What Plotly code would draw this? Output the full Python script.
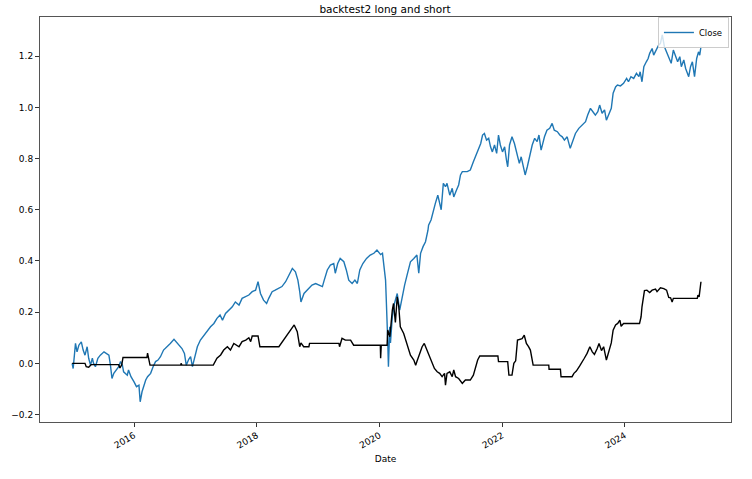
import pandas as pd
import plotly.graph_objects as go

# values (x in decimal years)
close_year = [2014.99, 2015.007, 2015.045, 2015.07, 2015.10, 2015.14, 2015.17, 2015.20, 2015.235, 2015.26,
              2015.29, 2015.32, 2015.34, 2015.37, 2015.41, 2015.45, 2015.51, 2015.55, 2015.59, 2015.615,
              2015.64, 2015.67, 2015.71, 2015.75, 2015.78, 2015.81, 2015.83, 2015.89, 2015.91, 2015.95,
              2016.0, 2016.04, 2016.08, 2016.10, 2016.13, 2016.16, 2016.19, 2016.22, 2016.27, 2016.31,
              2016.35, 2016.39, 2016.43, 2016.48, 2016.54, 2016.59, 2016.65, 2016.70, 2016.745, 2016.78,
              2016.82, 2016.85, 2016.89, 2016.92, 2016.95, 2016.985, 2017.03, 2017.08, 2017.14, 2017.19,
              2017.245, 2017.30, 2017.35, 2017.40, 2017.44, 2017.49, 2017.54, 2017.60, 2017.65, 2017.71,
              2017.76, 2017.82, 2017.87, 2017.925, 2017.98, 2018.02, 2018.06, 2018.11, 2018.16, 2018.195,
              2018.25, 2018.30, 2018.36, 2018.41, 2018.47, 2018.52, 2018.58, 2018.63, 2018.67, 2018.70,
              2018.72, 2018.77, 2018.82, 2018.85, 2018.90, 2018.96, 2019.01, 2019.07, 2019.10, 2019.15,
              2019.20, 2019.255, 2019.28, 2019.32, 2019.36, 2019.42, 2019.46, 2019.50, 2019.555, 2019.60,
              2019.64, 2019.68, 2019.73, 2019.79, 2019.85, 2019.91, 2019.96, 2020.02, 2020.05, 2020.07,
              2020.10, 2020.11, 2020.125, 2020.135, 2020.147, 2020.158, 2020.168, 2020.18, 2020.21, 2020.245,
              2020.29, 2020.33, 2020.37, 2020.41, 2020.45, 2020.505, 2020.56, 2020.61, 2020.64, 2020.67,
              2020.71, 2020.75, 2020.79, 2020.80, 2020.84, 2020.875, 2020.91, 2020.95, 2020.98, 2021.005,
              2021.04, 2021.075, 2021.10, 2021.145, 2021.185, 2021.21, 2021.255, 2021.29, 2021.32, 2021.35,
              2021.43, 2021.48, 2021.53, 2021.565, 2021.60, 2021.65, 2021.68, 2021.71, 2021.745, 2021.78,
              2021.81, 2021.84, 2021.875, 2021.91, 2021.94, 2021.97, 2022.005, 2022.04, 2022.07, 2022.09,
              2022.12, 2022.16, 2022.20, 2022.245, 2022.28, 2022.31, 2022.34, 2022.375, 2022.41, 2022.45,
              2022.49, 2022.53, 2022.57, 2022.60, 2022.635, 2022.69, 2022.73, 2022.775, 2022.815, 2022.85,
              2022.90, 2022.94, 2022.98, 2023.015, 2023.06, 2023.11, 2023.16, 2023.195, 2023.25, 2023.30,
              2023.36, 2023.395, 2023.44, 2023.48, 2023.52, 2023.56, 2023.59, 2023.63, 2023.67, 2023.70,
              2023.74, 2023.78, 2023.81, 2023.85, 2023.88, 2023.93, 2023.98, 2024.03, 2024.06, 2024.10,
              2024.145, 2024.19, 2024.23, 2024.25, 2024.28, 2024.31, 2024.35, 2024.38, 2024.405, 2024.445,
              2024.47, 2024.515, 2024.55, 2024.58, 2024.61, 2024.645, 2024.68, 2024.715, 2024.755, 2024.79,
              2024.825, 2024.86, 2024.895, 2024.92, 2024.96, 2024.99, 2025.04, 2025.07, 2025.10, 2025.135,
              2025.17, 2025.20, 2025.22, 2025.24]
close_value = [0.0, -0.02, 0.078, 0.045, 0.071, 0.084, 0.052, 0.032, 0.065, 0.02,
               -0.007, 0.02, 0.0, -0.013, 0.02, 0.032, 0.045, 0.039, 0.032, -0.007,
               -0.059, -0.039, -0.026, -0.013, 0.007, -0.007, -0.033, -0.046, -0.026, -0.052,
               -0.072, -0.091, -0.085, -0.15, -0.111, -0.085, -0.065, -0.052, -0.039, -0.013,
               0.007, 0.013, 0.026, 0.052, 0.065, 0.078, 0.094, 0.08, 0.065, 0.058,
               0.039, -0.007, 0.016, 0.026, -0.013, 0.026, 0.065, 0.091, 0.11, 0.13,
               0.143, 0.156, 0.176, 0.189, 0.169, 0.195, 0.208, 0.221, 0.24, 0.228,
               0.254, 0.26, 0.267, 0.28, 0.286, 0.319, 0.273, 0.247, 0.234, 0.254,
               0.28, 0.286, 0.293, 0.3, 0.319, 0.345, 0.371, 0.358, 0.325, 0.28,
               0.24, 0.273, 0.286, 0.293, 0.306, 0.312, 0.306, 0.3, 0.325, 0.365,
               0.384, 0.39, 0.352, 0.39, 0.41, 0.397, 0.365, 0.325, 0.312, 0.325,
               0.312, 0.365, 0.39, 0.41, 0.423, 0.43, 0.443, 0.425, 0.43, 0.377,
               0.325, 0.26, 0.182, 0.091, -0.013, 0.104, 0.143, 0.08, 0.182, 0.234,
               0.273, 0.208, 0.26, 0.306, 0.345, 0.397, 0.41, 0.423, 0.352, 0.43,
               0.456, 0.475, 0.52, 0.54, 0.56, 0.599, 0.625, 0.657, 0.63, 0.6,
               0.703, 0.69, 0.703, 0.657, 0.684, 0.65, 0.677, 0.697, 0.736, 0.749,
               0.749, 0.755, 0.788, 0.807, 0.833, 0.859, 0.892, 0.898, 0.872, 0.879,
               0.846, 0.826, 0.853, 0.82, 0.892, 0.853, 0.826, 0.846, 0.794, 0.768,
               0.853, 0.885, 0.859, 0.82, 0.781, 0.807, 0.768, 0.736, 0.768, 0.807,
               0.853, 0.879, 0.866, 0.892, 0.833, 0.885, 0.911, 0.918, 0.9375, 0.911,
               0.905, 0.892, 0.885, 0.872, 0.885, 0.84, 0.872, 0.898, 0.918, 0.931,
               0.944, 0.97, 0.996, 0.983, 0.97, 0.983, 1.009, 0.977, 0.99, 0.95,
               0.977, 0.996, 1.055, 1.08, 1.087, 1.084, 1.094, 1.113, 1.1, 1.12,
               1.113, 1.133, 1.12, 1.139, 1.1, 1.159, 1.178, 1.191, 1.211, 1.23,
               1.204, 1.23, 1.243, 1.25, 1.283, 1.237, 1.217, 1.198, 1.172, 1.224,
               1.198, 1.178, 1.198, 1.159, 1.185, 1.152, 1.12, 1.159, 1.178, 1.12,
               1.191, 1.217, 1.204, 1.237]

strategy_year = [2014.99, 2015.20, 2015.22, 2015.26, 2015.30, 2015.75, 2015.77, 2015.80, 2015.82, 2016.21,
                 2016.22, 2016.24, 2016.26, 2016.76, 2016.765, 2016.78, 2017.29, 2017.35, 2017.41, 2017.46,
                 2017.52, 2017.57, 2017.625, 2017.71, 2017.76, 2017.82, 2017.87, 2017.90, 2017.925, 2018.02,
                 2018.05, 2018.36, 2018.39, 2018.44, 2018.495, 2018.55, 2018.61, 2018.66, 2018.70, 2018.72,
                 2018.765, 2018.85, 2018.86, 2019.34, 2019.35, 2019.39, 2019.445, 2019.53, 2019.58, 2020.015,
                 2020.02, 2020.03, 2020.125, 2020.135, 2020.17, 2020.21, 2020.23, 2020.26, 2020.29, 2020.315,
                 2020.34, 2020.395, 2020.45, 2020.505, 2020.56, 2020.59, 2020.61, 2020.655, 2020.695, 2020.73,
                 2020.775, 2020.82, 2020.86, 2020.895, 2020.94, 2020.98, 2021.02, 2021.06, 2021.075, 2021.10,
                 2021.145, 2021.185, 2021.21, 2021.24, 2021.29, 2021.35, 2021.40, 2021.48, 2021.53, 2021.565,
                 2021.60, 2021.635, 2021.93, 2021.94, 2022.09, 2022.11, 2022.16, 2022.19, 2022.22, 2022.25,
                 2022.325, 2022.36, 2022.395, 2022.43, 2022.46, 2022.505, 2022.76, 2022.765, 2022.95, 2022.96,
                 2023.14, 2023.17, 2023.21, 2023.265, 2023.30, 2023.34, 2023.385, 2023.43, 2023.47, 2023.505,
                 2023.55, 2023.58, 2023.62, 2023.655, 2023.70, 2023.74, 2023.78, 2023.81, 2023.85, 2023.885,
                 2023.92, 2023.94, 2023.98, 2024.24, 2024.265, 2024.28, 2024.32, 2024.36, 2024.405, 2024.445,
                 2024.50, 2024.525, 2024.58, 2024.635, 2024.68, 2024.715, 2024.745, 2024.77, 2024.79, 2025.18,
                 2025.19, 2025.21, 2025.225, 2025.24]
strategy_value = [0.0, 0.0, -0.013, -0.015, -0.005, -0.005, -0.018, -0.005, 0.023, 0.023,
                  0.04, 0.02, -0.007, -0.007, 0.0, -0.007, -0.007, 0.02, 0.033, 0.052,
                  0.065, 0.052, 0.078, 0.065, 0.085, 0.091, 0.1, 0.085, 0.107, 0.107,
                  0.065, 0.065, 0.075, 0.091, 0.11, 0.13, 0.15, 0.124, 0.065, 0.08,
                  0.065, 0.065, 0.078, 0.078, 0.065, 0.098, 0.091, 0.091, 0.071, 0.071,
                  0.02, 0.071, 0.071, 0.13, 0.104, 0.208, 0.234, 0.16, 0.26, 0.221,
                  0.143, 0.117, 0.078, 0.032, 0.013, -0.007, 0.007, 0.039, 0.065, 0.078,
                  0.052, 0.026, 0.0, -0.02, -0.033, -0.039, -0.052, -0.039, -0.085, -0.039,
                  -0.033, -0.052, -0.026, -0.052, -0.059, -0.078, -0.065, -0.065, -0.046, -0.013,
                  0.013, 0.029, 0.029, 0.007, 0.007, -0.046, -0.046, 0.0, 0.01, 0.091,
                  0.097, 0.11, 0.078, 0.065, 0.052, -0.007, -0.007, -0.023, -0.023, -0.052,
                  -0.052, -0.039, -0.03, -0.01, 0.007, 0.02, 0.039, 0.065, 0.045, 0.035,
                  0.058, 0.078, 0.05, 0.065, 0.013, 0.05, 0.08, 0.13, 0.15, 0.156,
                  0.169, 0.145, 0.156, 0.156, 0.182, 0.221, 0.284, 0.286, 0.277, 0.286,
                  0.29, 0.28, 0.295, 0.292, 0.286, 0.258, 0.256, 0.24, 0.254, 0.254,
                  0.267, 0.26, 0.29, 0.319]

y_ticks = [-0.2, 0.0, 0.2, 0.4, 0.6, 0.8, 1.0, 1.2]


def to_date(y):
    year = int(y)
    start = pd.Timestamp(year, 1, 1)
    end = pd.Timestamp(year + 1, 1, 1)
    return start + (y - year) * (end - start)


close_dates = [to_date(v) for v in close_year]
strategy_dates = [to_date(v) for v in strategy_year]

fig = go.Figure()
fig.add_trace(go.Scatter(x=close_dates, y=close_value, mode='lines', name='Close',
                         line=dict(color='#1f77b4', width=1.4)))
fig.add_trace(go.Scatter(x=strategy_dates, y=strategy_value, mode='lines', showlegend=False,
                         line=dict(color='black', width=1.4)))

font = 'DejaVu Sans, sans-serif'
fig.update_layout(
    width=752, height=479,
    margin=dict(l=40, r=21, t=17, b=57),
    paper_bgcolor='white', plot_bgcolor='white',
    font=dict(family=font, size=9, color='black'),
    title=dict(text='backtest2 long and short', x=0.512, xanchor='center', y=0.981, yanchor='middle',
               font=dict(size=10.5, family=font, color='black')),
    legend=dict(x=0.997, y=1.0, xanchor='right', yanchor='top', bordercolor='#cccccc', borderwidth=1,
                bgcolor='rgba(255,255,255,0.8)', font=dict(size=8.5), itemwidth=30, tracegroupgap=0),
)
fig.update_xaxes(
    type='date', range=[to_date(2014.466), to_date(2025.73)],
    tick0='2016-01-01', dtick='M24', tickformat='%Y', tickangle=-30,
    ticks='outside', ticklen=4, tickcolor='#333', showgrid=False, zeroline=False,
    showline=True, linecolor='#555', linewidth=1, mirror=True,
    title=dict(text='Date', standoff=6, font=dict(size=9)),
)
fig.update_yaxes(
    range=[-0.229, 1.353], tickvals=y_ticks, tickformat='.1f',
    ticks='outside', ticklen=4, tickcolor='#333', showgrid=False, zeroline=False,
    showline=True, linecolor='#555', linewidth=1, mirror=True,
)

# drop the browser's default 8px page margin so the figure sits at the window corner
fig.write_html("out.html", config={'displayModeBar': False},
               post_script="document.body.style.margin = '0';")
